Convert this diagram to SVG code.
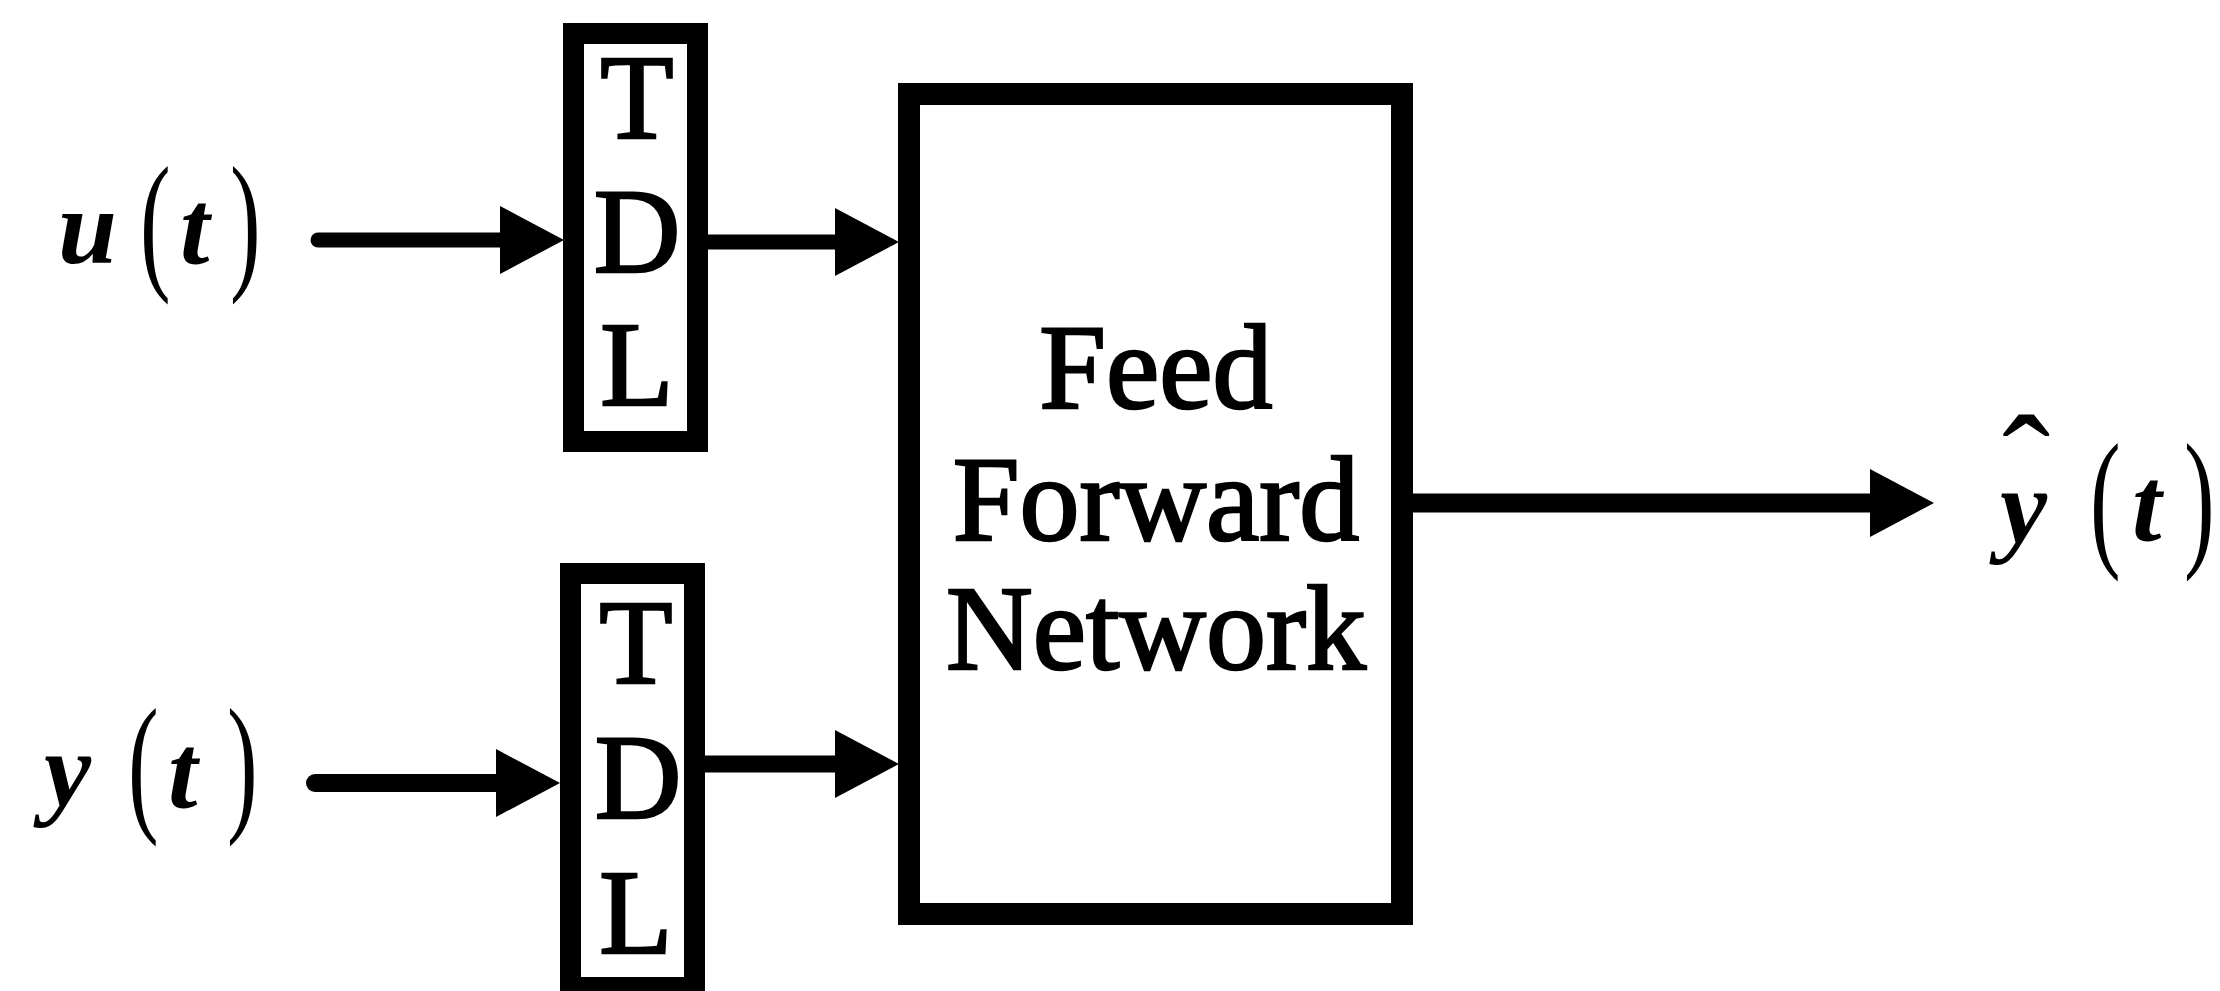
<svg xmlns="http://www.w3.org/2000/svg" width="2220" height="991" viewBox="0 0 2220 991">
  <style>
    .box { fill: #fff; stroke: #000; }
    .lbl { font-family: "Liberation Serif", "Times New Roman", serif; font-size: 120px; fill: #000; stroke: #000; stroke-width: 2.5px; text-anchor: middle; }
    .var { font-family: "Liberation Serif", "Times New Roman", serif; font-size: 106px; font-style: italic; font-weight: bold; fill: #000; }
    .par { font-family: "Liberation Serif", "Times New Roman", serif; font-size: 80px; fill: #000; }
    .hat { font-style: normal; font-weight: normal; font-size: 145px; }
    .wire { fill: none; stroke: #000; stroke-linecap: round; }
  </style>
  <defs>
    <marker id="head" viewBox="0 0 64 68" refX="24" refY="34" markerWidth="64" markerHeight="68" markerUnits="userSpaceOnUse" orient="auto">
      <path d="M0,0 L64,34 L0,68 Z" fill="#000"/>
    </marker>
  </defs>
  <rect width="2220" height="991" fill="#fff"/>

  <!-- input signal labels (tall thin parentheses are stretched vertically) -->
  <g id="label-u">
    <text class="var" x="58" y="263">u</text>
    <text class="par" transform="translate(140,272) scale(1.15,1.9)">(</text>
    <text class="var" x="180" y="263">t</text>
    <text class="par" transform="translate(230,272) scale(1.15,1.9)">)</text>
  </g>
  <g id="label-y">
    <text class="var" x="44" y="805">y</text>
    <text class="par" transform="translate(128,814) scale(1.15,1.9)">(</text>
    <text class="var" x="168" y="807">t</text>
    <text class="par" transform="translate(227,814) scale(1.15,1.9)">)</text>
  </g>

  <!-- tapped delay lines -->
  <g id="tdl-u">
    <rect class="box" x="573.5" y="33.5" width="124" height="408" stroke-width="21"/>
    <text class="lbl" x="637" y="138">T</text>
    <text class="lbl" x="637" y="272">D</text>
    <text class="lbl" x="637" y="405">L</text>
  </g>
  <g id="tdl-y">
    <rect class="box" x="570.5" y="573.5" width="124" height="414" stroke-width="21"/>
    <text class="lbl" x="636" y="683">T</text>
    <text class="lbl" x="638" y="818">D</text>
    <text class="lbl" x="636" y="953">L</text>
  </g>

  <!-- network block -->
  <g id="ffn">
    <rect class="box" x="909" y="94" width="493" height="820" stroke-width="22"/>
    <text class="lbl" x="1156" y="408">Feed</text>
    <text class="lbl" x="1156" y="540">Forward</text>
    <text class="lbl" x="1156" y="669">Network</text>
  </g>

  <!-- output label: y with a raised circumflex -->
  <g id="label-yhat">
    <text class="var" x="2000" y="542">y<tspan class="hat" x="2002" y="515">ˆ</tspan></text>
    <text class="par" transform="translate(2090,549) scale(1.15,1.9)">(</text>
    <text class="var" x="2132" y="540">t</text>
    <text class="par" transform="translate(2184,549) scale(1.15,1.9)">)</text>
  </g>

  <!-- connectors -->
  <g id="connectors">
    <path class="wire" d="M318,240 H524" stroke-width="15" marker-end="url(#head)"/>
    <path class="wire" d="M708,242 H859" stroke-width="15" marker-end="url(#head)"/>
    <path class="wire" d="M315,783 H520" stroke-width="18" marker-end="url(#head)"/>
    <path class="wire" d="M705,764 H859" stroke-width="17" marker-end="url(#head)"/>
    <path class="wire" d="M1413,503 H1894" stroke-width="19" marker-end="url(#head)"/>
  </g>
</svg>
